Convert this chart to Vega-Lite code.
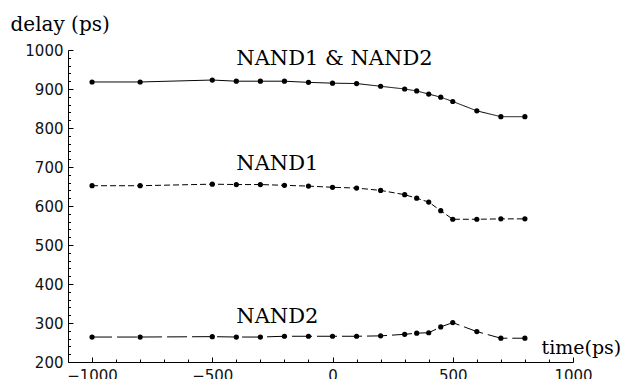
{
  "$schema": "https://vega.github.io/schema/vega-lite/v6.json",
  "width": 505,
  "height": 312,
  "autosize": "none",
  "padding": {"left": 68, "top": 50, "right": 53, "bottom": 17},
  "background": "white",
  "config": {
    "view": {"stroke": null},
    "axis": {
      "domainColor": "black",
      "domainWidth": 1,
      "tickColor": "black",
      "tickWidth": 1,
      "grid": false,
      "labelFont": "DejaVu Sans",
      "labelFontSize": 15,
      "labelColor": "#111",
      "labelOverlap": false,
      "labelFlush": false,
      "titleFont": "DejaVu Serif",
      "titleFontWeight": "normal",
      "titleFontSize": 20,
      "titleColor": "black"
    }
  },
  "datasets": {
    "series": [
      {"series": "both", "t": -1000, "d": 918},
      {"series": "both", "t": -800, "d": 918},
      {"series": "both", "t": -500, "d": 923},
      {"series": "both", "t": -400, "d": 920},
      {"series": "both", "t": -300, "d": 920},
      {"series": "both", "t": -200, "d": 920},
      {"series": "both", "t": -100, "d": 917},
      {"series": "both", "t": 0, "d": 915},
      {"series": "both", "t": 100, "d": 914},
      {"series": "both", "t": 200, "d": 907},
      {"series": "both", "t": 300, "d": 900},
      {"series": "both", "t": 350, "d": 895},
      {"series": "both", "t": 400, "d": 887},
      {"series": "both", "t": 450, "d": 879},
      {"series": "both", "t": 500, "d": 868},
      {"series": "both", "t": 600, "d": 844},
      {"series": "both", "t": 700, "d": 829},
      {"series": "both", "t": 800, "d": 829},
      {"series": "nand1", "t": -1000, "d": 652},
      {"series": "nand1", "t": -800, "d": 652},
      {"series": "nand1", "t": -500, "d": 656},
      {"series": "nand1", "t": -400, "d": 655},
      {"series": "nand1", "t": -300, "d": 655},
      {"series": "nand1", "t": -200, "d": 653},
      {"series": "nand1", "t": -100, "d": 651},
      {"series": "nand1", "t": 0, "d": 648},
      {"series": "nand1", "t": 100, "d": 646},
      {"series": "nand1", "t": 200, "d": 640},
      {"series": "nand1", "t": 300, "d": 629},
      {"series": "nand1", "t": 350, "d": 620},
      {"series": "nand1", "t": 400, "d": 610},
      {"series": "nand1", "t": 450, "d": 588},
      {"series": "nand1", "t": 500, "d": 566},
      {"series": "nand1", "t": 600, "d": 566},
      {"series": "nand1", "t": 700, "d": 567},
      {"series": "nand1", "t": 800, "d": 567},
      {"series": "nand2", "t": -1000, "d": 264},
      {"series": "nand2", "t": -800, "d": 264},
      {"series": "nand2", "t": -500, "d": 265},
      {"series": "nand2", "t": -400, "d": 264},
      {"series": "nand2", "t": -300, "d": 264},
      {"series": "nand2", "t": -200, "d": 266},
      {"series": "nand2", "t": -100, "d": 266},
      {"series": "nand2", "t": 0, "d": 266},
      {"series": "nand2", "t": 100, "d": 266},
      {"series": "nand2", "t": 200, "d": 267},
      {"series": "nand2", "t": 300, "d": 271},
      {"series": "nand2", "t": 350, "d": 274},
      {"series": "nand2", "t": 400, "d": 275},
      {"series": "nand2", "t": 450, "d": 290},
      {"series": "nand2", "t": 500, "d": 301},
      {"series": "nand2", "t": 600, "d": 278},
      {"series": "nand2", "t": 700, "d": 261},
      {"series": "nand2", "t": 800, "d": 261}
    ],
    "labels": [
      {"t": -400, "d": 961, "label": "NAND1 & NAND2"},
      {"t": -400, "d": 692, "label": "NAND1"},
      {"t": -400, "d": 301, "label": "NAND2"}
    ]
  },
  "encoding": {
    "x": {
      "field": "t",
      "type": "quantitative",
      "scale": {"domain": [-1100, 1000], "nice": false, "zero": false},
      "axis": {
        "title": "time(ps)",
        "titleAngle": 0,
        "titleAlign": "left",
        "titleBaseline": "alphabetic",
        "titleX": 473,
        "titleY": -9,
        "titleFontSize": 19,
        "format": "d",
        "values": [-1000, -900, -800, -700, -600, -500, -400, -300, -200, -100, 0, 100, 200, 300, 400, 500, 600, 700, 800, 900, 1000],
        "labelExpr": "datum.value % 500 === 0 ? datum.label : ''",
        "tickSize": {"condition": {"test": "datum.value % 500 === 0", "value": -5}, "value": -3},
        "labelPadding": 11
      }
    },
    "y": {
      "field": "d",
      "type": "quantitative",
      "scale": {"domain": [200, 1000], "nice": false, "zero": false},
      "axis": {
        "title": "delay (ps)",
        "titleAngle": 0,
        "titleAlign": "left",
        "titleBaseline": "alphabetic",
        "titleX": -58,
        "titleY": -20,
        "format": "d",
        "values": [200, 220, 240, 260, 280, 300, 320, 340, 360, 380, 400, 420, 440, 460, 480, 500, 520, 540, 560, 580, 600, 620, 640, 660, 680, 700, 720, 740, 760, 780, 800, 820, 840, 860, 880, 900, 920, 940, 960, 980, 1000],
        "labelExpr": "datum.value % 100 === 0 ? datum.label : ''",
        "tickSize": {"condition": {"test": "datum.value % 100 === 0", "value": -5}, "value": -2.5},
        "labelPadding": 10
      }
    }
  },
  "layer": [
    {
      "data": {"name": "series"},
      "mark": {"type": "line", "color": "black", "strokeWidth": 1},
      "encoding": {
        "strokeDash": {
          "field": "series",
          "type": "nominal",
          "scale": {"domain": ["both", "nand1", "nand2"], "range": [[1, 0], [6, 3], [20, 5]]},
          "legend": null
        }
      }
    },
    {
      "data": {"name": "series"},
      "mark": {"type": "point", "filled": true, "color": "black", "size": 27, "opacity": 1}
    },
    {
      "data": {"name": "labels"},
      "mark": {"type": "text", "align": "left", "baseline": "alphabetic", "font": "DejaVu Serif", "fontSize": 21, "color": "black"},
      "encoding": {"text": {"field": "label"}}
    }
  ]
}
